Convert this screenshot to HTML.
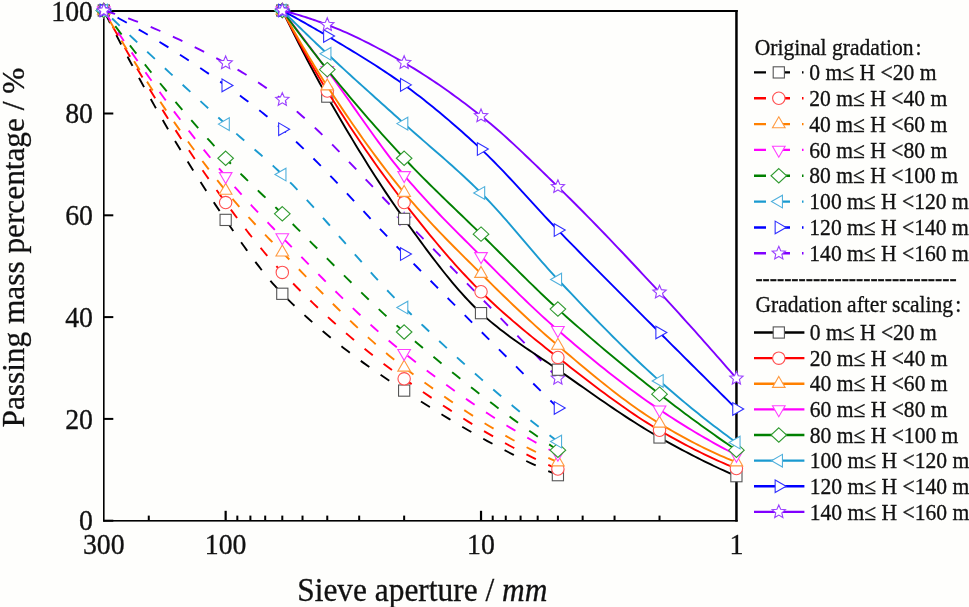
<!DOCTYPE html><html><head><meta charset="utf-8"><style>html,body{margin:0;padding:0;background:#fefefc;overflow:hidden;}svg{display:block}text{font-family:"Liberation Serif",serif;fill:#111;stroke:#111;stroke-width:0.3px}.t{filter:grayscale(1)}</style></head><body>
<svg width="969" height="607" viewBox="0 0 969 607">
<rect width="969" height="607" fill="#fefefc"/>
<rect x="103.00" y="10.00" width="634.70" height="2.00" fill="#000"/>
<rect x="735.20" y="10.00" width="2.50" height="511.60" fill="#000"/>
<rect x="103.00" y="10.00" width="1.60" height="511.60" fill="#000"/>
<rect x="103.00" y="520.00" width="634.70" height="1.60" fill="#000"/>
<rect x="104.00" y="519.70" width="9.30" height="2.00" fill="#000"/>
<text class="t" transform="translate(93.00,530.30) scale(1,1.050)" font-size="27.80" text-anchor="end">0</text>
<rect x="104.00" y="417.90" width="9.30" height="2.00" fill="#000"/>
<text class="t" transform="translate(93.00,428.50) scale(1,1.050)" font-size="27.80" text-anchor="end">20</text>
<rect x="104.00" y="316.10" width="9.30" height="2.00" fill="#000"/>
<text class="t" transform="translate(93.00,326.70) scale(1,1.050)" font-size="27.80" text-anchor="end">40</text>
<rect x="104.00" y="214.30" width="9.30" height="2.00" fill="#000"/>
<text class="t" transform="translate(93.00,224.90) scale(1,1.050)" font-size="27.80" text-anchor="end">60</text>
<rect x="104.00" y="112.50" width="9.30" height="2.00" fill="#000"/>
<text class="t" transform="translate(93.00,123.10) scale(1,1.050)" font-size="27.80" text-anchor="end">80</text>
<rect x="104.00" y="10.70" width="9.30" height="2.00" fill="#000"/>
<text class="t" transform="translate(93.00,21.30) scale(1,1.050)" font-size="27.80" text-anchor="end">100</text>
<rect x="224.55" y="510.80" width="2.20" height="9.70" fill="#000"/>
<rect x="479.92" y="510.80" width="2.20" height="9.70" fill="#000"/>
<rect x="147.77" y="515.60" width="2.00" height="4.90" fill="#000"/>
<rect x="403.15" y="515.60" width="2.00" height="4.90" fill="#000"/>
<rect x="358.18" y="515.60" width="2.00" height="4.90" fill="#000"/>
<rect x="326.27" y="515.60" width="2.00" height="4.90" fill="#000"/>
<rect x="301.52" y="515.60" width="2.00" height="4.90" fill="#000"/>
<rect x="281.30" y="515.60" width="2.00" height="4.90" fill="#000"/>
<rect x="264.20" y="515.60" width="2.00" height="4.90" fill="#000"/>
<rect x="249.39" y="515.60" width="2.00" height="4.90" fill="#000"/>
<rect x="236.33" y="515.60" width="2.00" height="4.90" fill="#000"/>
<rect x="658.52" y="515.60" width="2.00" height="4.90" fill="#000"/>
<rect x="613.55" y="515.60" width="2.00" height="4.90" fill="#000"/>
<rect x="581.65" y="515.60" width="2.00" height="4.90" fill="#000"/>
<rect x="556.90" y="515.60" width="2.00" height="4.90" fill="#000"/>
<rect x="536.68" y="515.60" width="2.00" height="4.90" fill="#000"/>
<rect x="519.58" y="515.60" width="2.00" height="4.90" fill="#000"/>
<rect x="504.77" y="515.60" width="2.00" height="4.90" fill="#000"/>
<rect x="491.71" y="515.60" width="2.00" height="4.90" fill="#000"/>
<text class="t" transform="translate(103.80,553.80) scale(1,1.050)" font-size="27.80" text-anchor="middle">300</text>
<text class="t" transform="translate(225.65,553.80) scale(1,1.050)" font-size="27.80" text-anchor="middle">100</text>
<text class="t" transform="translate(481.02,553.80) scale(1,1.050)" font-size="27.80" text-anchor="middle">10</text>
<text class="t" transform="translate(736.40,553.80) scale(1,1.050)" font-size="27.80" text-anchor="middle">1</text>
<path d="M557.90,475.16 L551.49,472.47 L545.09,469.69 L538.68,466.82 L532.27,463.87 L525.87,460.83 L519.46,457.72 L513.05,454.53 L506.65,451.27 L500.24,447.93 L493.84,444.52 L487.43,441.05 L481.02,437.51 L474.62,433.90 L468.21,430.23 L461.80,426.50 L455.40,422.71 L448.99,418.87 L442.58,414.98 L436.18,411.03 L429.77,407.03 L423.37,402.98 L416.96,398.89 L410.55,394.76 L404.15,390.59 L399.07,387.25 L393.99,383.89 L388.92,380.49 L383.84,377.05 L378.76,373.58 L373.69,370.06 L368.61,366.48 L363.53,362.86 L358.45,359.17 L353.38,355.42 L348.30,351.60 L343.22,347.71 L338.15,343.74 L333.07,339.69 L327.99,335.56 L322.92,331.34 L317.84,327.02 L312.76,322.60 L307.69,318.08 L302.61,313.45 L297.53,308.72 L292.45,303.86 L287.38,298.88 L282.30,293.78 L279.94,291.34 L277.58,288.82 L275.22,286.22 L272.86,283.55 L270.50,280.81 L268.14,278.01 L265.78,275.14 L263.42,272.21 L261.06,269.23 L258.69,266.19 L256.33,263.10 L253.97,259.97 L251.61,256.79 L249.25,253.57 L246.89,250.32 L244.53,247.03 L242.17,243.71 L239.81,240.37 L237.45,237.00 L235.09,233.61 L232.73,230.20 L230.37,226.78 L228.01,223.34 L225.65,219.90 L220.57,212.45 L215.49,204.89 L210.42,197.23 L205.34,189.47 L200.26,181.60 L195.18,173.63 L190.11,165.54 L185.03,157.35 L179.95,149.05 L174.88,140.64 L169.80,132.11 L164.72,123.47 L159.65,114.72 L154.57,105.85 L149.49,96.86 L144.42,87.76 L139.34,78.53 L134.26,69.19 L129.18,59.72 L124.11,50.13 L119.03,40.41 L113.95,30.57 L108.88,20.60 L103.80,10.50" fill="none" stroke="#000000" stroke-width="1.9" stroke-dasharray="10.5 13.7"/>
<rect x="98.20" y="4.90" width="11.20" height="11.20" fill="#fff" stroke="#555555" stroke-width="1.10"/>
<rect x="220.05" y="214.30" width="11.20" height="11.20" fill="#fff" stroke="#555555" stroke-width="1.10"/>
<rect x="276.70" y="288.18" width="11.20" height="11.20" fill="#fff" stroke="#555555" stroke-width="1.10"/>
<rect x="398.55" y="384.99" width="11.20" height="11.20" fill="#fff" stroke="#555555" stroke-width="1.10"/>
<rect x="552.30" y="469.56" width="11.20" height="11.20" fill="#fff" stroke="#555555" stroke-width="1.10"/>
<path d="M557.90,469.05 L551.49,466.27 L545.09,463.38 L538.68,460.39 L532.27,457.30 L525.87,454.12 L519.46,450.84 L513.05,447.47 L506.65,444.02 L500.24,440.48 L493.84,436.85 L487.43,433.15 L481.02,429.36 L474.62,425.50 L468.21,421.57 L461.80,417.57 L455.40,413.51 L448.99,409.37 L442.58,405.18 L436.18,400.93 L429.77,396.62 L423.37,392.26 L416.96,387.84 L410.55,383.38 L404.15,378.87 L399.07,375.24 L393.99,371.55 L388.92,367.78 L383.84,363.95 L378.76,360.05 L373.69,356.07 L368.61,352.03 L363.53,347.92 L358.45,343.73 L353.38,339.48 L348.30,335.15 L343.22,330.76 L338.15,326.29 L333.07,321.75 L327.99,317.14 L322.92,312.45 L317.84,307.70 L312.76,302.87 L307.69,297.97 L302.61,293.00 L297.53,287.96 L292.45,282.84 L287.38,277.65 L282.30,272.38 L279.94,269.89 L277.58,267.36 L275.22,264.78 L272.86,262.15 L270.50,259.49 L268.14,256.78 L265.78,254.03 L263.42,251.24 L261.06,248.42 L258.69,245.56 L256.33,242.66 L253.97,239.74 L251.61,236.78 L249.25,233.79 L246.89,230.78 L244.53,227.73 L242.17,224.67 L239.81,221.57 L237.45,218.46 L235.09,215.32 L232.73,212.16 L230.37,208.98 L228.01,205.79 L225.65,202.58 L220.57,195.62 L215.49,188.58 L210.42,181.45 L205.34,174.24 L200.26,166.95 L195.18,159.56 L190.11,152.09 L185.03,144.53 L179.95,136.88 L174.88,129.14 L169.80,121.30 L164.72,113.38 L159.65,105.35 L154.57,97.23 L149.49,89.01 L144.42,80.70 L139.34,72.28 L134.26,63.77 L129.18,55.15 L124.11,46.43 L119.03,37.61 L113.95,28.68 L108.88,19.64 L103.80,10.50" fill="none" stroke="#ff0000" stroke-width="1.9" stroke-dasharray="10.5 13.7"/>
<circle cx="103.80" cy="10.50" r="6.20" fill="#fff" stroke="#ff5050" stroke-width="1.10"/>
<circle cx="225.65" cy="202.58" r="6.20" fill="#fff" stroke="#ff5050" stroke-width="1.10"/>
<circle cx="282.30" cy="272.38" r="6.20" fill="#fff" stroke="#ff5050" stroke-width="1.10"/>
<circle cx="404.15" cy="378.87" r="6.20" fill="#fff" stroke="#ff5050" stroke-width="1.10"/>
<circle cx="557.90" cy="469.05" r="6.20" fill="#fff" stroke="#ff5050" stroke-width="1.10"/>
<path d="M557.90,462.22 L551.49,459.39 L545.09,456.43 L538.68,453.36 L532.27,450.17 L525.87,446.88 L519.46,443.47 L513.05,439.97 L506.65,436.36 L500.24,432.65 L493.84,428.85 L487.43,424.96 L481.02,420.97 L474.62,416.91 L468.21,412.76 L461.80,408.53 L455.40,404.23 L448.99,399.85 L442.58,395.41 L436.18,390.89 L429.77,386.32 L423.37,381.69 L416.96,377.00 L410.55,372.25 L404.15,367.46 L399.07,363.57 L393.99,359.56 L388.92,355.44 L383.84,351.20 L378.76,346.85 L373.69,342.40 L368.61,337.86 L363.53,333.23 L358.45,328.52 L353.38,323.74 L348.30,318.88 L343.22,313.97 L338.15,308.99 L333.07,303.97 L327.99,298.90 L322.92,293.79 L317.84,288.65 L312.76,283.49 L307.69,278.30 L302.61,273.11 L297.53,267.90 L292.45,262.70 L287.38,257.50 L282.30,252.31 L279.94,249.90 L277.58,247.49 L275.22,245.08 L272.86,242.67 L270.50,240.24 L268.14,237.82 L265.78,235.38 L263.42,232.93 L261.06,230.46 L258.69,227.99 L256.33,225.49 L253.97,222.98 L251.61,220.44 L249.25,217.88 L246.89,215.30 L244.53,212.69 L242.17,210.06 L239.81,207.39 L237.45,204.69 L235.09,201.96 L232.73,199.19 L230.37,196.39 L228.01,193.54 L225.65,190.66 L220.57,184.36 L215.49,177.97 L210.42,171.47 L205.34,164.88 L200.26,158.18 L195.18,151.39 L190.11,144.49 L185.03,137.48 L179.95,130.37 L174.88,123.16 L169.80,115.84 L164.72,108.41 L159.65,100.87 L154.57,93.23 L149.49,85.47 L144.42,77.60 L139.34,69.62 L134.26,61.52 L129.18,53.31 L124.11,44.98 L119.03,36.54 L113.95,27.98 L108.88,19.30 L103.80,10.50" fill="none" stroke="#ff8000" stroke-width="1.9" stroke-dasharray="10.5 13.7"/>
<polygon points="103.80,3.20 110.12,14.15 97.48,14.15" fill="#fff" stroke="#ff9a40" stroke-width="1.10"/>
<polygon points="225.65,183.36 231.97,194.31 219.32,194.31" fill="#fff" stroke="#ff9a40" stroke-width="1.10"/>
<polygon points="282.30,245.01 288.62,255.96 275.98,255.96" fill="#fff" stroke="#ff9a40" stroke-width="1.10"/>
<polygon points="404.15,360.16 410.47,371.11 397.82,371.11" fill="#fff" stroke="#ff9a40" stroke-width="1.10"/>
<polygon points="557.90,454.92 564.22,465.87 551.58,465.87" fill="#fff" stroke="#ff9a40" stroke-width="1.10"/>
<path d="M557.90,453.97 L551.49,450.76 L545.09,447.44 L538.68,444.03 L532.27,440.51 L525.87,436.90 L519.46,433.19 L513.05,429.38 L506.65,425.49 L500.24,421.51 L493.84,417.45 L487.43,413.30 L481.02,409.08 L474.62,404.78 L468.21,400.40 L461.80,395.95 L455.40,391.43 L448.99,386.85 L442.58,382.20 L436.18,377.48 L429.77,372.71 L423.37,367.89 L416.96,363.00 L410.55,358.07 L404.15,353.09 L399.07,349.07 L393.99,344.93 L388.92,340.70 L383.84,336.37 L378.76,331.95 L373.69,327.44 L368.61,322.85 L363.53,318.18 L358.45,313.45 L353.38,308.64 L348.30,303.78 L343.22,298.86 L338.15,293.89 L333.07,288.88 L327.99,283.83 L322.92,278.74 L317.84,273.62 L312.76,268.48 L307.69,263.32 L302.61,258.15 L297.53,252.97 L292.45,247.79 L287.38,242.60 L282.30,237.43 L279.94,235.03 L277.58,232.62 L275.22,230.20 L272.86,227.78 L270.50,225.36 L268.14,222.92 L265.78,220.47 L263.42,218.02 L261.06,215.55 L258.69,213.07 L256.33,210.57 L253.97,208.06 L251.61,205.53 L249.25,202.98 L246.89,200.42 L244.53,197.83 L242.17,195.23 L239.81,192.60 L237.45,189.95 L235.09,187.27 L232.73,184.57 L230.37,181.84 L228.01,179.08 L225.65,176.29 L220.57,170.23 L215.49,164.11 L210.42,157.91 L205.34,151.65 L200.26,145.32 L195.18,138.92 L190.11,132.44 L185.03,125.90 L179.95,119.28 L174.88,112.58 L169.80,105.81 L164.72,98.97 L159.65,92.04 L154.57,85.04 L149.49,77.96 L144.42,70.80 L139.34,63.56 L134.26,56.23 L129.18,48.82 L124.11,41.33 L119.03,33.75 L113.95,26.09 L108.88,18.34 L103.80,10.50" fill="none" stroke="#ff00ff" stroke-width="1.9" stroke-dasharray="10.5 13.7"/>
<polygon points="103.80,17.80 97.48,6.85 110.12,6.85" fill="#fff" stroke="#ff40ff" stroke-width="1.10"/>
<polygon points="225.65,183.59 219.32,172.64 231.97,172.64" fill="#fff" stroke="#ff40ff" stroke-width="1.10"/>
<polygon points="282.30,244.73 275.98,233.78 288.62,233.78" fill="#fff" stroke="#ff40ff" stroke-width="1.10"/>
<polygon points="404.15,360.39 397.82,349.44 410.47,349.44" fill="#fff" stroke="#ff40ff" stroke-width="1.10"/>
<polygon points="557.90,461.27 551.58,450.32 564.22,450.32" fill="#fff" stroke="#ff40ff" stroke-width="1.10"/>
<path d="M557.90,450.20 L551.49,445.96 L545.09,441.65 L538.68,437.27 L532.27,432.83 L525.87,428.32 L519.46,423.75 L513.05,419.11 L506.65,414.41 L500.24,409.66 L493.84,404.84 L487.43,399.97 L481.02,395.04 L474.62,390.06 L468.21,385.02 L461.80,379.93 L455.40,374.79 L448.99,369.60 L442.58,364.36 L436.18,359.08 L429.77,353.75 L423.37,348.37 L416.96,342.95 L410.55,337.49 L404.15,331.99 L399.07,327.58 L393.99,323.07 L388.92,318.49 L383.84,313.84 L378.76,309.12 L373.69,304.33 L368.61,299.49 L363.53,294.60 L358.45,289.66 L353.38,284.69 L348.30,279.67 L343.22,274.63 L338.15,269.56 L333.07,264.48 L327.99,259.38 L322.92,254.27 L317.84,249.16 L312.76,244.06 L307.69,238.96 L302.61,233.88 L297.53,228.81 L292.45,223.77 L287.38,218.76 L282.30,213.79 L279.94,211.49 L277.58,209.21 L275.22,206.94 L272.86,204.68 L270.50,202.43 L268.14,200.18 L265.78,197.94 L263.42,195.69 L261.06,193.45 L258.69,191.20 L256.33,188.95 L253.97,186.69 L251.61,184.42 L249.25,182.14 L246.89,179.85 L244.53,177.54 L242.17,175.21 L239.81,172.87 L237.45,170.50 L235.09,168.11 L232.73,165.69 L230.37,163.24 L228.01,160.76 L225.65,158.25 L220.57,152.79 L215.49,147.28 L210.42,141.71 L205.34,136.08 L200.26,130.40 L195.18,124.66 L190.11,118.86 L185.03,113.00 L179.95,107.09 L174.88,101.11 L169.80,95.07 L164.72,88.96 L159.65,82.79 L154.57,76.56 L149.49,70.26 L144.42,63.90 L139.34,57.47 L134.26,50.97 L129.18,44.40 L124.11,37.76 L119.03,31.06 L113.95,24.28 L108.88,17.42 L103.80,10.50" fill="none" stroke="#008000" stroke-width="1.9" stroke-dasharray="10.5 13.7"/>
<polygon points="103.80,3.30 111.60,10.50 103.80,17.70 96.00,10.50" fill="#fff" stroke="#309a30" stroke-width="1.10"/>
<polygon points="225.65,151.06 233.45,158.25 225.65,165.45 217.85,158.25" fill="#fff" stroke="#309a30" stroke-width="1.10"/>
<polygon points="282.30,206.59 290.10,213.79 282.30,220.99 274.50,213.79" fill="#fff" stroke="#309a30" stroke-width="1.10"/>
<polygon points="404.15,324.79 411.95,331.99 404.15,339.19 396.35,331.99" fill="#fff" stroke="#309a30" stroke-width="1.10"/>
<polygon points="557.90,443.00 565.70,450.20 557.90,457.40 550.10,450.20" fill="#fff" stroke="#309a30" stroke-width="1.10"/>
<path d="M557.90,441.54 L551.49,436.70 L545.09,431.79 L538.68,426.81 L532.27,421.75 L525.87,416.62 L519.46,411.42 L513.05,406.16 L506.65,400.82 L500.24,395.43 L493.84,389.96 L487.43,384.44 L481.02,378.85 L474.62,373.21 L468.21,367.50 L461.80,361.74 L455.40,355.92 L448.99,350.05 L442.58,344.12 L436.18,338.15 L429.77,332.12 L423.37,326.04 L416.96,319.92 L410.55,313.75 L404.15,307.54 L399.07,302.52 L393.99,297.37 L388.92,292.09 L383.84,286.69 L378.76,281.20 L373.69,275.62 L368.61,269.96 L363.53,264.24 L358.45,258.46 L353.38,252.66 L348.30,246.82 L343.22,240.98 L338.15,235.13 L333.07,229.30 L327.99,223.50 L322.92,217.74 L317.84,212.02 L312.76,206.38 L307.69,200.81 L302.61,195.32 L297.53,189.95 L292.45,184.69 L287.38,179.55 L282.30,174.56 L279.94,172.29 L277.58,170.05 L275.22,167.84 L272.86,165.66 L270.50,163.51 L268.14,161.37 L265.78,159.26 L263.42,157.16 L261.06,155.08 L258.69,153.02 L256.33,150.96 L253.97,148.91 L251.61,146.87 L249.25,144.83 L246.89,142.79 L244.53,140.75 L242.17,138.71 L239.81,136.66 L237.45,134.61 L235.09,132.54 L232.73,130.46 L230.37,128.37 L228.01,126.25 L225.65,124.12 L220.57,119.50 L215.49,114.88 L210.42,110.25 L205.34,105.60 L200.26,100.95 L195.18,96.29 L190.11,91.62 L185.03,86.94 L179.95,82.25 L174.88,77.55 L169.80,72.84 L164.72,68.12 L159.65,63.38 L154.57,58.64 L149.49,53.88 L144.42,49.11 L139.34,44.33 L134.26,39.54 L129.18,34.73 L124.11,29.91 L119.03,25.08 L113.95,20.23 L108.88,15.37 L103.80,10.50" fill="none" stroke="#1a9ad0" stroke-width="1.9" stroke-dasharray="10.5 13.7"/>
<polygon points="96.50,10.50 107.45,4.18 107.45,16.82" fill="#fff" stroke="#50b0dc" stroke-width="1.10"/>
<polygon points="218.35,124.12 229.30,117.80 229.30,130.44" fill="#fff" stroke="#50b0dc" stroke-width="1.10"/>
<polygon points="275.00,174.56 285.95,168.24 285.95,180.88" fill="#fff" stroke="#50b0dc" stroke-width="1.10"/>
<polygon points="396.85,307.54 407.80,301.22 407.80,313.86" fill="#fff" stroke="#50b0dc" stroke-width="1.10"/>
<polygon points="550.60,441.54 561.55,435.22 561.55,447.86" fill="#fff" stroke="#50b0dc" stroke-width="1.10"/>
<path d="M557.90,407.91 L551.49,401.58 L545.09,395.24 L538.68,388.90 L532.27,382.54 L525.87,376.18 L519.46,369.82 L513.05,363.44 L506.65,357.06 L500.24,350.67 L493.84,344.28 L487.43,337.87 L481.02,331.46 L474.62,325.05 L468.21,318.62 L461.80,312.19 L455.40,305.76 L448.99,299.32 L442.58,292.87 L436.18,286.41 L429.77,279.95 L423.37,273.48 L416.96,267.01 L410.55,260.53 L404.15,254.04 L399.07,248.86 L393.99,243.61 L388.92,238.31 L383.84,232.95 L378.76,227.56 L373.69,222.13 L368.61,216.68 L363.53,211.22 L358.45,205.75 L353.38,200.28 L348.30,194.83 L343.22,189.40 L338.15,184.00 L333.07,178.64 L327.99,173.33 L322.92,168.08 L317.84,162.89 L312.76,157.78 L307.69,152.76 L302.61,147.83 L297.53,143.00 L292.45,138.28 L287.38,133.68 L282.30,129.21 L279.94,127.18 L277.58,125.16 L275.22,123.17 L272.86,121.20 L270.50,119.24 L268.14,117.31 L265.78,115.39 L263.42,113.49 L261.06,111.62 L258.69,109.76 L256.33,107.91 L253.97,106.09 L251.61,104.28 L249.25,102.49 L246.89,100.71 L244.53,98.95 L242.17,97.21 L239.81,95.48 L237.45,93.76 L235.09,92.06 L232.73,90.37 L230.37,88.70 L228.01,87.04 L225.65,85.40 L220.57,81.88 L215.49,78.39 L210.42,74.92 L205.34,71.48 L200.26,68.07 L195.18,64.68 L190.11,61.33 L185.03,58.01 L179.95,54.72 L174.88,51.47 L169.80,48.26 L164.72,45.08 L159.65,41.94 L154.57,38.85 L149.49,35.80 L144.42,32.79 L139.34,29.83 L134.26,26.91 L129.18,24.05 L124.11,21.23 L119.03,18.47 L113.95,15.75 L108.88,13.10 L103.80,10.50" fill="none" stroke="#0000ff" stroke-width="1.9" stroke-dasharray="10.5 13.7"/>
<polygon points="111.10,10.50 100.15,16.82 100.15,4.18" fill="#fff" stroke="#3030ff" stroke-width="1.10"/>
<polygon points="232.95,85.40 222.00,91.72 222.00,79.07" fill="#fff" stroke="#3030ff" stroke-width="1.10"/>
<polygon points="289.60,129.21 278.65,135.54 278.65,122.89" fill="#fff" stroke="#3030ff" stroke-width="1.10"/>
<polygon points="411.45,254.04 400.50,260.36 400.50,247.72" fill="#fff" stroke="#3030ff" stroke-width="1.10"/>
<polygon points="565.20,407.91 554.25,414.23 554.25,401.59" fill="#fff" stroke="#3030ff" stroke-width="1.10"/>
<path d="M557.90,378.36 L551.49,371.56 L545.09,364.78 L538.68,358.01 L532.27,351.26 L525.87,344.52 L519.46,337.80 L513.05,331.10 L506.65,324.41 L500.24,317.74 L493.84,311.08 L487.43,304.43 L481.02,297.80 L474.62,291.19 L468.21,284.59 L461.80,278.01 L455.40,271.44 L448.99,264.88 L442.58,258.34 L436.18,251.81 L429.77,245.30 L423.37,238.80 L416.96,232.32 L410.55,225.85 L404.15,219.40 L399.07,214.25 L393.99,209.04 L388.92,203.78 L383.84,198.48 L378.76,193.14 L373.69,187.79 L368.61,182.42 L363.53,177.06 L358.45,171.70 L353.38,166.36 L348.30,161.06 L343.22,155.80 L338.15,150.58 L333.07,145.44 L327.99,140.36 L322.92,135.37 L317.84,130.47 L312.76,125.67 L307.69,120.99 L302.61,116.43 L297.53,112.01 L292.45,107.74 L287.38,103.62 L282.30,99.66 L279.94,97.88 L277.58,96.11 L275.22,94.37 L272.86,92.65 L270.50,90.95 L268.14,89.27 L265.78,87.62 L263.42,85.99 L261.06,84.38 L258.69,82.79 L256.33,81.22 L253.97,79.68 L251.61,78.16 L249.25,76.67 L246.89,75.19 L244.53,73.74 L242.17,72.32 L239.81,70.91 L237.45,69.53 L235.09,68.17 L232.73,66.84 L230.37,65.53 L228.01,64.24 L225.65,62.98 L220.57,60.30 L215.49,57.64 L210.42,55.01 L205.34,52.41 L200.26,49.84 L195.18,47.31 L190.11,44.81 L185.03,42.35 L179.95,39.94 L174.88,37.57 L169.80,35.24 L164.72,32.97 L159.65,30.75 L154.57,28.58 L149.49,26.47 L144.42,24.42 L139.34,22.44 L134.26,20.52 L129.18,18.66 L124.11,16.88 L119.03,15.17 L113.95,13.53 L108.88,11.98 L103.80,10.50" fill="none" stroke="#8000ff" stroke-width="1.9" stroke-dasharray="10.5 13.7"/>
<polygon points="103.80,3.50 105.68,7.91 110.46,8.34 106.84,11.49 107.91,16.16 103.80,13.70 99.69,16.16 100.76,11.49 97.14,8.34 101.92,7.91" fill="#fff" stroke="#9a40ff" stroke-width="1.10"/>
<polygon points="225.65,55.98 227.53,60.39 232.30,60.82 228.69,63.97 229.76,68.64 225.65,66.18 221.53,68.64 222.60,63.97 218.99,60.82 223.76,60.39" fill="#fff" stroke="#9a40ff" stroke-width="1.10"/>
<polygon points="282.30,92.66 284.18,97.07 288.96,97.50 285.34,100.65 286.42,105.33 282.30,102.86 278.19,105.33 279.26,100.65 275.64,97.50 280.42,97.07" fill="#fff" stroke="#9a40ff" stroke-width="1.10"/>
<polygon points="404.15,212.40 406.03,216.81 410.80,217.23 407.19,220.38 408.26,225.06 404.15,222.60 400.03,225.06 401.10,220.38 397.49,217.23 402.27,216.81" fill="#fff" stroke="#9a40ff" stroke-width="1.10"/>
<polygon points="557.90,371.36 559.78,375.77 564.56,376.20 560.94,379.35 562.01,384.02 557.90,381.56 553.78,384.02 554.86,379.35 551.24,376.20 556.02,375.77" fill="#fff" stroke="#9a40ff" stroke-width="1.10"/>
<path d="M282.30,10.50 L284.17,14.31 L286.05,18.10 L287.92,21.88 L289.80,25.64 L291.67,29.39 L293.54,33.13 L295.42,36.84 L297.29,40.54 L299.16,44.22 L301.04,47.88 L302.91,51.52 L304.79,55.14 L306.66,58.74 L308.53,62.31 L310.41,65.86 L312.28,69.39 L314.15,72.89 L316.03,76.36 L317.90,79.81 L319.78,83.23 L321.65,86.62 L323.52,89.98 L325.40,93.31 L327.27,96.61 L330.47,102.20 L333.68,107.76 L336.88,113.29 L340.08,118.79 L343.29,124.24 L346.49,129.66 L349.69,135.04 L352.90,140.37 L356.10,145.67 L359.30,150.92 L362.51,156.12 L365.71,161.27 L368.91,166.38 L372.12,171.43 L375.32,176.44 L378.52,181.39 L381.72,186.28 L384.93,191.12 L388.13,195.90 L391.33,200.62 L394.54,205.28 L397.74,209.88 L400.94,214.42 L404.15,218.89 L407.35,223.32 L410.55,227.74 L413.76,232.16 L416.96,236.55 L420.16,240.92 L423.37,245.27 L426.57,249.58 L429.77,253.86 L432.98,258.09 L436.18,262.28 L439.38,266.41 L442.58,270.48 L445.79,274.50 L448.99,278.45 L452.19,282.32 L455.40,286.12 L458.60,289.83 L461.80,293.46 L465.01,297.00 L468.21,300.44 L471.41,303.78 L474.62,307.02 L477.82,310.14 L481.02,313.14 L484.23,316.04 L487.43,318.86 L490.63,321.60 L493.84,324.27 L497.04,326.86 L500.24,329.39 L503.45,331.87 L506.65,334.29 L509.85,336.66 L513.05,338.98 L516.26,341.27 L519.46,343.52 L522.66,345.74 L525.87,347.94 L529.07,350.12 L532.27,352.29 L535.48,354.44 L538.68,356.59 L541.88,358.75 L545.09,360.91 L548.29,363.08 L551.49,365.26 L554.70,367.47 L557.90,369.70 L562.13,372.67 L566.37,375.65 L570.60,378.64 L574.84,381.62 L579.07,384.61 L583.31,387.59 L587.54,390.56 L591.77,393.53 L596.01,396.48 L600.24,399.42 L604.48,402.34 L608.71,405.24 L612.95,408.12 L617.18,410.97 L621.41,413.79 L625.65,416.59 L629.88,419.34 L634.12,422.06 L638.35,424.75 L642.59,427.38 L646.82,429.98 L651.06,432.52 L655.29,435.02 L659.52,437.46 L662.73,439.28 L665.93,441.08 L669.13,442.86 L672.34,444.63 L675.54,446.38 L678.74,448.11 L681.95,449.83 L685.15,451.53 L688.35,453.21 L691.56,454.87 L694.76,456.51 L697.96,458.14 L701.17,459.74 L704.37,461.33 L707.57,462.90 L710.77,464.45 L713.98,465.99 L717.18,467.50 L720.38,469.00 L723.59,470.47 L726.79,471.93 L729.99,473.37 L733.20,474.78 L736.40,476.18" fill="none" stroke="#000000" stroke-width="1.9"/>
<rect x="276.70" y="4.90" width="11.20" height="11.20" fill="#fff" stroke="#555555" stroke-width="1.10"/>
<rect x="321.67" y="91.01" width="11.20" height="11.20" fill="#fff" stroke="#555555" stroke-width="1.10"/>
<rect x="398.55" y="213.29" width="11.20" height="11.20" fill="#fff" stroke="#555555" stroke-width="1.10"/>
<rect x="475.42" y="307.54" width="11.20" height="11.20" fill="#fff" stroke="#555555" stroke-width="1.10"/>
<rect x="552.30" y="364.10" width="11.20" height="11.20" fill="#fff" stroke="#555555" stroke-width="1.10"/>
<rect x="653.92" y="431.86" width="11.20" height="11.20" fill="#fff" stroke="#555555" stroke-width="1.10"/>
<rect x="730.80" y="470.58" width="11.20" height="11.20" fill="#fff" stroke="#555555" stroke-width="1.10"/>
<path d="M282.30,10.50 L284.17,14.08 L286.05,17.65 L287.92,21.21 L289.80,24.75 L291.67,28.27 L293.54,31.78 L295.42,35.27 L297.29,38.74 L299.16,42.19 L301.04,45.62 L302.91,49.03 L304.79,52.42 L306.66,55.79 L308.53,59.13 L310.41,62.44 L312.28,65.73 L314.15,68.99 L316.03,72.23 L317.90,75.43 L319.78,78.61 L321.65,81.76 L323.52,84.87 L325.40,87.95 L327.27,91.00 L330.47,96.16 L333.68,101.27 L336.88,106.34 L340.08,111.37 L343.29,116.35 L346.49,121.28 L349.69,126.17 L352.90,131.01 L356.10,135.81 L359.30,140.57 L362.51,145.28 L365.71,149.95 L368.91,154.57 L372.12,159.15 L375.32,163.69 L378.52,168.18 L381.72,172.63 L384.93,177.04 L388.13,181.40 L391.33,185.72 L394.54,190.00 L397.74,194.24 L400.94,198.43 L404.15,202.58 L407.35,206.70 L410.55,210.79 L413.76,214.86 L416.96,218.91 L420.16,222.92 L423.37,226.90 L426.57,230.86 L429.77,234.78 L432.98,238.66 L436.18,242.51 L439.38,246.32 L442.58,250.09 L445.79,253.83 L448.99,257.51 L452.19,261.16 L455.40,264.76 L458.60,268.31 L461.80,271.82 L465.01,275.27 L468.21,278.68 L471.41,282.03 L474.62,285.32 L477.82,288.56 L481.02,291.74 L484.23,294.87 L487.43,297.95 L490.63,300.99 L493.84,303.98 L497.04,306.93 L500.24,309.83 L503.45,312.70 L506.65,315.54 L509.85,318.33 L513.05,321.10 L516.26,323.83 L519.46,326.54 L522.66,329.22 L525.87,331.87 L529.07,334.51 L532.27,337.12 L535.48,339.71 L538.68,342.28 L541.88,344.84 L545.09,347.39 L548.29,349.92 L551.49,352.44 L554.70,354.96 L557.90,357.47 L562.13,360.79 L566.37,364.10 L570.60,367.41 L574.84,370.71 L579.07,374.00 L583.31,377.27 L587.54,380.53 L591.77,383.77 L596.01,386.98 L600.24,390.17 L604.48,393.32 L608.71,396.45 L612.95,399.54 L617.18,402.59 L621.41,405.60 L625.65,408.57 L629.88,411.49 L634.12,414.35 L638.35,417.17 L642.59,419.93 L646.82,422.62 L651.06,425.26 L655.29,427.83 L659.52,430.33 L662.73,432.18 L665.93,434.02 L669.13,435.83 L672.34,437.62 L675.54,439.39 L678.74,441.14 L681.95,442.87 L685.15,444.57 L688.35,446.26 L691.56,447.92 L694.76,449.55 L697.96,451.16 L701.17,452.75 L704.37,454.31 L707.57,455.85 L710.77,457.37 L713.98,458.85 L717.18,460.32 L720.38,461.75 L723.59,463.17 L726.79,464.55 L729.99,465.91 L733.20,467.24 L736.40,468.54" fill="none" stroke="#ff0000" stroke-width="1.9"/>
<circle cx="282.30" cy="10.50" r="6.20" fill="#fff" stroke="#ff5050" stroke-width="1.10"/>
<circle cx="327.27" cy="91.00" r="6.20" fill="#fff" stroke="#ff5050" stroke-width="1.10"/>
<circle cx="404.15" cy="202.58" r="6.20" fill="#fff" stroke="#ff5050" stroke-width="1.10"/>
<circle cx="481.02" cy="291.74" r="6.20" fill="#fff" stroke="#ff5050" stroke-width="1.10"/>
<circle cx="557.90" cy="357.47" r="6.20" fill="#fff" stroke="#ff5050" stroke-width="1.10"/>
<circle cx="659.52" cy="430.33" r="6.20" fill="#fff" stroke="#ff5050" stroke-width="1.10"/>
<circle cx="736.40" cy="468.54" r="6.20" fill="#fff" stroke="#ff5050" stroke-width="1.10"/>
<path d="M282.30,10.50 L284.17,13.86 L286.05,17.20 L287.92,20.53 L289.80,23.85 L291.67,27.15 L293.54,30.44 L295.42,33.72 L297.29,36.97 L299.16,40.21 L301.04,43.44 L302.91,46.64 L304.79,49.82 L306.66,52.99 L308.53,56.13 L310.41,59.25 L312.28,62.35 L314.15,65.42 L316.03,68.47 L317.90,71.49 L319.78,74.49 L321.65,77.46 L323.52,80.41 L325.40,83.32 L327.27,86.21 L330.47,91.11 L333.68,95.97 L336.88,100.81 L340.08,105.61 L343.29,110.38 L346.49,115.11 L349.69,119.80 L352.90,124.46 L356.10,129.08 L359.30,133.66 L362.51,138.19 L365.71,142.68 L368.91,147.13 L372.12,151.53 L375.32,155.88 L378.52,160.19 L381.72,164.44 L384.93,168.64 L388.13,172.79 L391.33,176.89 L394.54,180.93 L397.74,184.91 L400.94,188.83 L404.15,192.70 L407.35,196.50 L410.55,200.25 L413.76,203.94 L416.96,207.59 L420.16,211.18 L423.37,214.73 L426.57,218.23 L429.77,221.69 L432.98,225.12 L436.18,228.50 L439.38,231.86 L442.58,235.19 L445.79,238.48 L448.99,241.76 L452.19,245.01 L455.40,248.24 L458.60,251.45 L461.80,254.65 L465.01,257.84 L468.21,261.02 L471.41,264.20 L474.62,267.37 L477.82,270.54 L481.02,273.71 L484.23,276.88 L487.43,280.04 L490.63,283.19 L493.84,286.34 L497.04,289.47 L500.24,292.59 L503.45,295.70 L506.65,298.79 L509.85,301.87 L513.05,304.94 L516.26,307.98 L519.46,311.01 L522.66,314.02 L525.87,317.01 L529.07,319.98 L532.27,322.92 L535.48,325.84 L538.68,328.74 L541.88,331.61 L545.09,334.46 L548.29,337.27 L551.49,340.06 L554.70,342.82 L557.90,345.55 L562.13,349.13 L566.37,352.71 L570.60,356.29 L574.84,359.86 L579.07,363.42 L583.31,366.95 L587.54,370.47 L591.77,373.97 L596.01,377.43 L600.24,380.87 L604.48,384.27 L608.71,387.62 L612.95,390.94 L617.18,394.21 L621.41,397.43 L625.65,400.59 L629.88,403.70 L634.12,406.74 L638.35,409.72 L642.59,412.63 L646.82,415.47 L651.06,418.23 L655.29,420.91 L659.52,423.50 L662.73,425.42 L665.93,427.31 L669.13,429.19 L672.34,431.03 L675.54,432.86 L678.74,434.66 L681.95,436.43 L685.15,438.18 L688.35,439.90 L691.56,441.59 L694.76,443.26 L697.96,444.90 L701.17,446.51 L704.37,448.09 L707.57,449.65 L710.77,451.17 L713.98,452.66 L717.18,454.12 L720.38,455.55 L723.59,456.95 L726.79,458.32 L729.99,459.65 L733.20,460.96 L736.40,462.22" fill="none" stroke="#ff8000" stroke-width="1.9"/>
<polygon points="282.30,3.20 288.62,14.15 275.98,14.15" fill="#fff" stroke="#ff9a40" stroke-width="1.10"/>
<polygon points="327.27,78.91 333.59,89.86 320.95,89.86" fill="#fff" stroke="#ff9a40" stroke-width="1.10"/>
<polygon points="404.15,185.40 410.47,196.35 397.82,196.35" fill="#fff" stroke="#ff9a40" stroke-width="1.10"/>
<polygon points="481.02,266.41 487.34,277.36 474.70,277.36" fill="#fff" stroke="#ff9a40" stroke-width="1.10"/>
<polygon points="557.90,338.25 564.22,349.20 551.58,349.20" fill="#fff" stroke="#ff9a40" stroke-width="1.10"/>
<polygon points="659.52,416.20 665.85,427.15 653.20,427.15" fill="#fff" stroke="#ff9a40" stroke-width="1.10"/>
<polygon points="736.40,454.92 742.72,465.87 730.08,465.87" fill="#fff" stroke="#ff9a40" stroke-width="1.10"/>
<path d="M282.30,10.50 L284.17,12.97 L286.05,15.44 L287.92,17.91 L289.80,20.39 L291.67,22.86 L293.54,25.34 L295.42,27.82 L297.29,30.30 L299.16,32.78 L301.04,35.27 L302.91,37.76 L304.79,40.25 L306.66,42.74 L308.53,45.23 L310.41,47.73 L312.28,50.23 L314.15,52.73 L316.03,55.23 L317.90,57.74 L319.78,60.25 L321.65,62.76 L323.52,65.28 L325.40,67.79 L327.27,70.32 L330.47,74.65 L333.68,79.04 L336.88,83.48 L340.08,87.95 L343.29,92.45 L346.49,96.98 L349.69,101.52 L352.90,106.08 L356.10,110.64 L359.30,115.21 L362.51,119.76 L365.71,124.30 L368.91,128.82 L372.12,133.31 L375.32,137.76 L378.52,142.18 L381.72,146.55 L384.93,150.86 L388.13,155.12 L391.33,159.31 L394.54,163.43 L397.74,167.46 L400.94,171.41 L404.15,175.27 L407.35,179.05 L410.55,182.78 L413.76,186.45 L416.96,190.07 L420.16,193.64 L423.37,197.17 L426.57,200.65 L429.77,204.10 L432.98,207.51 L436.18,210.88 L439.38,214.23 L442.58,217.55 L445.79,220.84 L448.99,224.11 L452.19,227.37 L455.40,230.60 L458.60,233.83 L461.80,237.04 L465.01,240.25 L468.21,243.45 L471.41,246.66 L474.62,249.86 L477.82,253.07 L481.02,256.28 L484.23,259.50 L487.43,262.72 L490.63,265.94 L493.84,269.16 L497.04,272.37 L500.24,275.57 L503.45,278.77 L506.65,281.95 L509.85,285.12 L513.05,288.28 L516.26,291.43 L519.46,294.56 L522.66,297.66 L525.87,300.75 L529.07,303.82 L532.27,306.86 L535.48,309.88 L538.68,312.87 L541.88,315.83 L545.09,318.77 L548.29,321.67 L551.49,324.53 L554.70,327.37 L557.90,330.16 L562.13,333.82 L566.37,337.46 L570.60,341.07 L574.84,344.67 L579.07,348.24 L583.31,351.78 L587.54,355.29 L591.77,358.78 L596.01,362.24 L600.24,365.67 L604.48,369.06 L608.71,372.42 L612.95,375.75 L617.18,379.03 L621.41,382.29 L625.65,385.50 L629.88,388.67 L634.12,391.80 L638.35,394.89 L642.59,397.93 L646.82,400.93 L651.06,403.88 L655.29,406.79 L659.52,409.64 L662.73,411.77 L665.93,413.88 L669.13,415.97 L672.34,418.04 L675.54,420.09 L678.74,422.12 L681.95,424.13 L685.15,426.12 L688.35,428.09 L691.56,430.03 L694.76,431.96 L697.96,433.86 L701.17,435.75 L704.37,437.61 L707.57,439.44 L710.77,441.26 L713.98,443.06 L717.18,444.83 L720.38,446.58 L723.59,448.31 L726.79,450.01 L729.99,451.69 L733.20,453.35 L736.40,454.99" fill="none" stroke="#ff00ff" stroke-width="1.9"/>
<polygon points="282.30,17.80 275.98,6.85 288.62,6.85" fill="#fff" stroke="#ff40ff" stroke-width="1.10"/>
<polygon points="327.27,77.62 320.95,66.67 333.59,66.67" fill="#fff" stroke="#ff40ff" stroke-width="1.10"/>
<polygon points="404.15,182.57 397.82,171.62 410.47,171.62" fill="#fff" stroke="#ff40ff" stroke-width="1.10"/>
<polygon points="481.02,263.58 474.70,252.63 487.34,252.63" fill="#fff" stroke="#ff40ff" stroke-width="1.10"/>
<polygon points="557.90,337.46 551.58,326.51 564.22,326.51" fill="#fff" stroke="#ff40ff" stroke-width="1.10"/>
<polygon points="659.52,416.94 653.20,405.99 665.85,405.99" fill="#fff" stroke="#ff40ff" stroke-width="1.10"/>
<polygon points="736.40,462.29 730.08,451.34 742.72,451.34" fill="#fff" stroke="#ff40ff" stroke-width="1.10"/>
<path d="M282.30,10.50 L284.17,13.07 L286.05,15.63 L287.92,18.19 L289.80,20.74 L291.67,23.28 L293.54,25.82 L295.42,28.34 L297.29,30.86 L299.16,33.37 L301.04,35.86 L302.91,38.35 L304.79,40.83 L306.66,43.29 L308.53,45.75 L310.41,48.19 L312.28,50.62 L314.15,53.04 L316.03,55.45 L317.90,57.84 L319.78,60.22 L321.65,62.59 L323.52,64.94 L325.40,67.28 L327.27,69.60 L330.47,73.55 L333.68,77.48 L336.88,81.38 L340.08,85.27 L343.29,89.13 L346.49,92.98 L349.69,96.80 L352.90,100.60 L356.10,104.38 L359.30,108.13 L362.51,111.87 L365.71,115.58 L368.91,119.27 L372.12,122.93 L375.32,126.57 L378.52,130.19 L381.72,133.78 L384.93,137.35 L388.13,140.90 L391.33,144.42 L394.54,147.92 L397.74,151.39 L400.94,154.83 L404.15,158.25 L407.35,161.64 L410.55,165.00 L413.76,168.31 L416.96,171.60 L420.16,174.86 L423.37,178.08 L426.57,181.29 L429.77,184.47 L432.98,187.63 L436.18,190.77 L439.38,193.90 L442.58,197.01 L445.79,200.11 L448.99,203.21 L452.19,206.29 L455.40,209.38 L458.60,212.46 L461.80,215.54 L465.01,218.62 L468.21,221.71 L471.41,224.81 L474.62,227.92 L477.82,231.04 L481.02,234.17 L484.23,237.32 L487.43,240.48 L490.63,243.66 L493.84,246.84 L497.04,250.03 L500.24,253.22 L503.45,256.42 L506.65,259.61 L509.85,262.81 L513.05,266.00 L516.26,269.18 L519.46,272.36 L522.66,275.53 L525.87,278.68 L529.07,281.82 L532.27,284.94 L535.48,288.05 L538.68,291.13 L541.88,294.19 L545.09,297.22 L548.29,300.23 L551.49,303.21 L554.70,306.15 L557.90,309.07 L562.13,312.88 L566.37,316.67 L570.60,320.43 L574.84,324.17 L579.07,327.89 L583.31,331.58 L587.54,335.24 L591.77,338.88 L596.01,342.50 L600.24,346.10 L604.48,349.67 L608.71,353.22 L612.95,356.75 L617.18,360.25 L621.41,363.74 L625.65,367.20 L629.88,370.64 L634.12,374.06 L638.35,377.46 L642.59,380.84 L646.82,384.20 L651.06,387.54 L655.29,390.85 L659.52,394.15 L662.73,396.64 L665.93,399.10 L669.13,401.56 L672.34,404.00 L675.54,406.43 L678.74,408.85 L681.95,411.25 L685.15,413.65 L688.35,416.02 L691.56,418.39 L694.76,420.74 L697.96,423.08 L701.17,425.41 L704.37,427.73 L707.57,430.03 L710.77,432.32 L713.98,434.60 L717.18,436.86 L720.38,439.12 L723.59,441.36 L726.79,443.59 L729.99,445.80 L733.20,448.01 L736.40,450.20" fill="none" stroke="#008000" stroke-width="1.9"/>
<polygon points="282.30,3.30 290.10,10.50 282.30,17.70 274.50,10.50" fill="#fff" stroke="#309a30" stroke-width="1.10"/>
<polygon points="327.27,62.40 335.07,69.60 327.27,76.80 319.47,69.60" fill="#fff" stroke="#309a30" stroke-width="1.10"/>
<polygon points="404.15,151.06 411.95,158.25 404.15,165.45 396.35,158.25" fill="#fff" stroke="#309a30" stroke-width="1.10"/>
<polygon points="481.02,226.97 488.82,234.17 481.02,241.37 473.22,234.17" fill="#fff" stroke="#309a30" stroke-width="1.10"/>
<polygon points="557.90,301.87 565.70,309.07 557.90,316.27 550.10,309.07" fill="#fff" stroke="#309a30" stroke-width="1.10"/>
<polygon points="659.52,386.95 667.32,394.15 659.52,401.35 651.72,394.15" fill="#fff" stroke="#309a30" stroke-width="1.10"/>
<polygon points="736.40,443.00 744.20,450.20 736.40,457.40 728.60,450.20" fill="#fff" stroke="#309a30" stroke-width="1.10"/>
<path d="M282.30,10.50 L284.17,12.34 L286.05,14.18 L287.92,16.02 L289.80,17.85 L291.67,19.68 L293.54,21.51 L295.42,23.34 L297.29,25.16 L299.16,26.98 L301.04,28.79 L302.91,30.60 L304.79,32.41 L306.66,34.22 L308.53,36.02 L310.41,37.82 L312.28,39.61 L314.15,41.40 L316.03,43.19 L317.90,44.97 L319.78,46.75 L321.65,48.52 L323.52,50.29 L325.40,52.05 L327.27,53.81 L330.47,56.80 L333.68,59.78 L336.88,62.75 L340.08,65.71 L343.29,68.65 L346.49,71.58 L349.69,74.51 L352.90,77.43 L356.10,80.33 L359.30,83.23 L362.51,86.13 L365.71,89.02 L368.91,91.91 L372.12,94.79 L375.32,97.67 L378.52,100.55 L381.72,103.42 L384.93,106.30 L388.13,109.18 L391.33,112.06 L394.54,114.94 L397.74,117.82 L400.94,120.71 L404.15,123.61 L407.35,126.49 L410.55,129.35 L413.76,132.19 L416.96,135.01 L420.16,137.81 L423.37,140.61 L426.57,143.39 L429.77,146.17 L432.98,148.95 L436.18,151.74 L439.38,154.53 L442.58,157.32 L445.79,160.14 L448.99,162.96 L452.19,165.81 L455.40,168.68 L458.60,171.58 L461.80,174.51 L465.01,177.47 L468.21,180.47 L471.41,183.51 L474.62,186.59 L477.82,189.72 L481.02,192.90 L484.23,196.15 L487.43,199.48 L490.63,202.88 L493.84,206.34 L497.04,209.86 L500.24,213.44 L503.45,217.06 L506.65,220.72 L509.85,224.41 L513.05,228.14 L516.26,231.88 L519.46,235.63 L522.66,239.40 L525.87,243.16 L529.07,246.93 L532.27,250.68 L535.48,254.41 L538.68,258.12 L541.88,261.80 L545.09,265.44 L548.29,269.04 L551.49,272.59 L554.70,276.08 L557.90,279.52 L562.13,284.01 L566.37,288.49 L570.60,292.96 L574.84,297.43 L579.07,301.88 L583.31,306.31 L587.54,310.73 L591.77,315.12 L596.01,319.49 L600.24,323.84 L604.48,328.16 L608.71,332.45 L612.95,336.71 L617.18,340.94 L621.41,345.13 L625.65,349.29 L629.88,353.40 L634.12,357.48 L638.35,361.50 L642.59,365.49 L646.82,369.42 L651.06,373.30 L655.29,377.13 L659.52,380.91 L662.73,383.73 L665.93,386.53 L669.13,389.31 L672.34,392.07 L675.54,394.80 L678.74,397.52 L681.95,400.21 L685.15,402.88 L688.35,405.53 L691.56,408.15 L694.76,410.76 L697.96,413.34 L701.17,415.90 L704.37,418.43 L707.57,420.95 L710.77,423.44 L713.98,425.91 L717.18,428.35 L720.38,430.78 L723.59,433.18 L726.79,435.56 L729.99,437.91 L733.20,440.25 L736.40,442.56" fill="none" stroke="#1a9ad0" stroke-width="1.9"/>
<polygon points="275.00,10.50 285.95,4.18 285.95,16.82" fill="#fff" stroke="#50b0dc" stroke-width="1.10"/>
<polygon points="319.97,53.81 330.92,47.49 330.92,60.13" fill="#fff" stroke="#50b0dc" stroke-width="1.10"/>
<polygon points="396.85,123.61 407.80,117.29 407.80,129.93" fill="#fff" stroke="#50b0dc" stroke-width="1.10"/>
<polygon points="473.72,192.90 484.67,186.58 484.67,199.22" fill="#fff" stroke="#50b0dc" stroke-width="1.10"/>
<polygon points="550.60,279.52 561.55,273.19 561.55,285.84" fill="#fff" stroke="#50b0dc" stroke-width="1.10"/>
<polygon points="652.22,380.91 663.17,374.58 663.17,387.23" fill="#fff" stroke="#50b0dc" stroke-width="1.10"/>
<polygon points="729.10,442.56 740.05,436.23 740.05,448.88" fill="#fff" stroke="#50b0dc" stroke-width="1.10"/>
<path d="M282.30,10.50 L284.17,11.51 L286.05,12.53 L287.92,13.56 L289.80,14.58 L291.67,15.61 L293.54,16.64 L295.42,17.68 L297.29,18.72 L299.16,19.77 L301.04,20.81 L302.91,21.87 L304.79,22.93 L306.66,23.99 L308.53,25.05 L310.41,26.12 L312.28,27.20 L314.15,28.28 L316.03,29.36 L317.90,30.45 L319.78,31.55 L321.65,32.65 L323.52,33.75 L325.40,34.86 L327.27,35.98 L330.47,37.88 L333.68,39.79 L336.88,41.70 L340.08,43.62 L343.29,45.54 L346.49,47.46 L349.69,49.39 L352.90,51.33 L356.10,53.29 L359.30,55.25 L362.51,57.23 L365.71,59.22 L368.91,61.23 L372.12,63.26 L375.32,65.31 L378.52,67.38 L381.72,69.47 L384.93,71.59 L388.13,73.73 L391.33,75.90 L394.54,78.10 L397.74,80.33 L400.94,82.59 L404.15,84.89 L407.35,87.22 L410.55,89.58 L413.76,91.98 L416.96,94.41 L420.16,96.87 L423.37,99.37 L426.57,101.89 L429.77,104.45 L432.98,107.04 L436.18,109.65 L439.38,112.30 L442.58,114.97 L445.79,117.67 L448.99,120.40 L452.19,123.16 L455.40,125.94 L458.60,128.75 L461.80,131.58 L465.01,134.44 L468.21,137.32 L471.41,140.23 L474.62,143.16 L477.82,146.11 L481.02,149.08 L484.23,152.10 L487.43,155.19 L490.63,158.34 L493.84,161.54 L497.04,164.80 L500.24,168.10 L503.45,171.44 L506.65,174.83 L509.85,178.24 L513.05,181.68 L516.26,185.15 L519.46,188.63 L522.66,192.13 L525.87,195.64 L529.07,199.14 L532.27,202.65 L535.48,206.15 L538.68,209.65 L541.88,213.12 L545.09,216.58 L548.29,220.01 L551.49,223.40 L554.70,226.77 L557.90,230.09 L562.13,234.45 L566.37,238.80 L570.60,243.13 L574.84,247.46 L579.07,251.77 L583.31,256.07 L587.54,260.36 L591.77,264.64 L596.01,268.91 L600.24,273.18 L604.48,277.44 L608.71,281.69 L612.95,285.94 L617.18,290.18 L621.41,294.42 L625.65,298.65 L629.88,302.89 L634.12,307.12 L638.35,311.35 L642.59,315.58 L646.82,319.81 L651.06,324.04 L655.29,328.27 L659.52,332.50 L662.73,335.71 L665.93,338.91 L669.13,342.11 L672.34,345.31 L675.54,348.51 L678.74,351.70 L681.95,354.89 L685.15,358.09 L688.35,361.28 L691.56,364.46 L694.76,367.65 L697.96,370.83 L701.17,374.02 L704.37,377.20 L707.57,380.38 L710.77,383.56 L713.98,386.73 L717.18,389.91 L720.38,393.08 L723.59,396.26 L726.79,399.43 L729.99,402.59 L733.20,405.76 L736.40,408.93" fill="none" stroke="#0000ff" stroke-width="1.9"/>
<polygon points="289.60,10.50 278.65,16.82 278.65,4.18" fill="#fff" stroke="#3030ff" stroke-width="1.10"/>
<polygon points="334.57,35.98 323.62,42.30 323.62,29.65" fill="#fff" stroke="#3030ff" stroke-width="1.10"/>
<polygon points="411.45,84.89 400.50,91.21 400.50,78.57" fill="#fff" stroke="#3030ff" stroke-width="1.10"/>
<polygon points="488.32,149.08 477.37,155.41 477.37,142.76" fill="#fff" stroke="#3030ff" stroke-width="1.10"/>
<polygon points="565.20,230.09 554.25,236.42 554.25,223.77" fill="#fff" stroke="#3030ff" stroke-width="1.10"/>
<polygon points="666.82,332.50 655.87,338.83 655.87,326.18" fill="#fff" stroke="#3030ff" stroke-width="1.10"/>
<polygon points="743.70,408.93 732.75,415.25 732.75,402.61" fill="#fff" stroke="#3030ff" stroke-width="1.10"/>
<path d="M282.30,10.50 L284.17,10.98 L286.05,11.47 L287.92,11.96 L289.80,12.47 L291.67,12.99 L293.54,13.52 L295.42,14.06 L297.29,14.62 L299.16,15.18 L301.04,15.75 L302.91,16.33 L304.79,16.92 L306.66,17.52 L308.53,18.13 L310.41,18.75 L312.28,19.38 L314.15,20.02 L316.03,20.67 L317.90,21.33 L319.78,22.00 L321.65,22.68 L323.52,23.36 L325.40,24.06 L327.27,24.77 L330.47,26.00 L333.68,27.27 L336.88,28.58 L340.08,29.92 L343.29,31.30 L346.49,32.72 L349.69,34.16 L352.90,35.64 L356.10,37.15 L359.30,38.69 L362.51,40.25 L365.71,41.85 L368.91,43.47 L372.12,45.11 L375.32,46.78 L378.52,48.48 L381.72,50.19 L384.93,51.93 L388.13,53.68 L391.33,55.46 L394.54,57.25 L397.74,59.06 L400.94,60.88 L404.15,62.72 L407.35,64.59 L410.55,66.49 L413.76,68.42 L416.96,70.39 L420.16,72.39 L423.37,74.43 L426.57,76.49 L429.77,78.59 L432.98,80.72 L436.18,82.88 L439.38,85.07 L442.58,87.29 L445.79,89.53 L448.99,91.81 L452.19,94.11 L455.40,96.44 L458.60,98.80 L461.80,101.18 L465.01,103.58 L468.21,106.01 L471.41,108.47 L474.62,110.94 L477.82,113.44 L481.02,115.97 L484.23,118.53 L487.43,121.14 L490.63,123.80 L493.84,126.52 L497.04,129.27 L500.24,132.07 L503.45,134.91 L506.65,137.79 L509.85,140.70 L513.05,143.65 L516.26,146.62 L519.46,149.62 L522.66,152.65 L525.87,155.69 L529.07,158.76 L532.27,161.84 L535.48,164.94 L538.68,168.05 L541.88,171.16 L545.09,174.29 L548.29,177.41 L551.49,180.54 L554.70,183.67 L557.90,186.79 L562.13,190.92 L566.37,195.09 L570.60,199.29 L574.84,203.51 L579.07,207.76 L583.31,212.04 L587.54,216.34 L591.77,220.66 L596.01,225.01 L600.24,229.38 L604.48,233.77 L608.71,238.18 L612.95,242.60 L617.18,247.05 L621.41,251.51 L625.65,255.99 L629.88,260.48 L634.12,264.99 L638.35,269.51 L642.59,274.04 L646.82,278.58 L651.06,283.13 L655.29,287.69 L659.52,292.25 L662.73,295.72 L665.93,299.19 L669.13,302.68 L672.34,306.18 L675.54,309.69 L678.74,313.21 L681.95,316.74 L685.15,320.29 L688.35,323.84 L691.56,327.41 L694.76,330.99 L697.96,334.57 L701.17,338.17 L704.37,341.78 L707.57,345.39 L710.77,349.02 L713.98,352.66 L717.18,356.30 L720.38,359.96 L723.59,363.62 L726.79,367.29 L729.99,370.97 L733.20,374.66 L736.40,378.36" fill="none" stroke="#8000ff" stroke-width="1.9"/>
<polygon points="282.30,3.50 284.18,7.91 288.96,8.34 285.34,11.49 286.42,16.16 282.30,13.70 278.19,16.16 279.26,11.49 275.64,8.34 280.42,7.91" fill="#fff" stroke="#9a40ff" stroke-width="1.10"/>
<polygon points="327.27,17.77 329.15,22.18 333.93,22.60 330.31,25.75 331.39,30.43 327.27,27.97 323.16,30.43 324.23,25.75 320.61,22.60 325.39,22.18" fill="#fff" stroke="#9a40ff" stroke-width="1.10"/>
<polygon points="404.15,55.72 406.03,60.13 410.80,60.56 407.19,63.71 408.26,68.39 404.15,65.92 400.03,68.39 401.10,63.71 397.49,60.56 402.27,60.13" fill="#fff" stroke="#9a40ff" stroke-width="1.10"/>
<polygon points="481.02,108.97 482.90,113.38 487.68,113.80 484.07,116.96 485.14,121.63 481.02,119.17 476.91,121.63 477.98,116.96 474.37,113.80 479.14,113.38" fill="#fff" stroke="#9a40ff" stroke-width="1.10"/>
<polygon points="557.90,179.79 559.78,184.20 564.56,184.62 560.94,187.78 562.01,192.45 557.90,189.99 553.78,192.45 554.86,187.78 551.24,184.62 556.02,184.20" fill="#fff" stroke="#9a40ff" stroke-width="1.10"/>
<polygon points="659.52,285.25 661.40,289.66 666.18,290.09 662.57,293.24 663.64,297.92 659.52,295.45 655.41,297.92 656.48,293.24 652.87,290.09 657.64,289.66" fill="#fff" stroke="#9a40ff" stroke-width="1.10"/>
<polygon points="736.40,371.36 738.28,375.77 743.06,376.20 739.44,379.35 740.51,384.02 736.40,381.56 732.29,384.02 733.36,379.35 729.74,376.20 734.52,375.77" fill="#fff" stroke="#9a40ff" stroke-width="1.10"/>
<text class="t" transform="translate(297.20,600.80) scale(1,1.050)" font-size="31.40">Sieve aperture / <tspan font-style="italic">mm</tspan></text>
<text class="t" transform="translate(24.2,247.6) rotate(-90)" font-size="31.3" text-anchor="middle">Passing mass percentage / %</text>
<text class="t" transform="translate(754.70,54.80) scale(1,1.050)" font-size="21.60">Original gradation<tspan dx="2">:</tspan></text>
<path d="M754,72.40 H803.5" stroke="#000000" stroke-width="2.4" stroke-dasharray="12 12"/>
<rect x="773.20" y="66.80" width="11.20" height="11.20" fill="#fff" stroke="#555555" stroke-width="1.10"/>
<text class="t" transform="translate(809.30,80.00) scale(1,1.050)" font-size="21.60">0 m≤ H &lt;20 m</text>
<path d="M754,98.24 H803.5" stroke="#ff0000" stroke-width="2.4" stroke-dasharray="12 12"/>
<circle cx="778.80" cy="98.24" r="6.20" fill="#fff" stroke="#ff5050" stroke-width="1.10"/>
<text class="t" transform="translate(809.30,105.84) scale(1,1.050)" font-size="21.60">20 m≤ H &lt;40 m</text>
<path d="M754,124.08 H803.5" stroke="#ff8000" stroke-width="2.4" stroke-dasharray="12 12"/>
<polygon points="778.80,116.78 785.12,127.73 772.48,127.73" fill="#fff" stroke="#ff9a40" stroke-width="1.10"/>
<text class="t" transform="translate(809.30,131.68) scale(1,1.050)" font-size="21.60">40 m≤ H &lt;60 m</text>
<path d="M754,149.92 H803.5" stroke="#ff00ff" stroke-width="2.4" stroke-dasharray="12 12"/>
<polygon points="778.80,157.22 772.48,146.27 785.12,146.27" fill="#fff" stroke="#ff40ff" stroke-width="1.10"/>
<text class="t" transform="translate(809.30,157.52) scale(1,1.050)" font-size="21.60">60 m≤ H &lt;80 m</text>
<path d="M754,175.76 H803.5" stroke="#008000" stroke-width="2.4" stroke-dasharray="12 12"/>
<polygon points="778.80,168.56 786.60,175.76 778.80,182.96 771.00,175.76" fill="#fff" stroke="#309a30" stroke-width="1.10"/>
<text class="t" transform="translate(809.30,183.36) scale(1,1.050)" font-size="21.60">80 m≤ H &lt;100 m</text>
<path d="M754,201.60 H803.5" stroke="#1a9ad0" stroke-width="2.4" stroke-dasharray="12 12"/>
<polygon points="771.50,201.60 782.45,195.28 782.45,207.92" fill="#fff" stroke="#50b0dc" stroke-width="1.10"/>
<text class="t" transform="translate(809.30,209.20) scale(1,1.050)" font-size="21.60">100 m≤ H &lt;120 m</text>
<path d="M754,227.44 H803.5" stroke="#0000ff" stroke-width="2.4" stroke-dasharray="12 12"/>
<polygon points="786.10,227.44 775.15,233.76 775.15,221.12" fill="#fff" stroke="#3030ff" stroke-width="1.10"/>
<text class="t" transform="translate(809.30,235.04) scale(1,1.050)" font-size="21.60">120 m≤ H &lt;140 m</text>
<path d="M754,253.28 H803.5" stroke="#8000ff" stroke-width="2.4" stroke-dasharray="12 12"/>
<polygon points="778.80,246.28 780.68,250.69 785.46,251.12 781.84,254.27 782.91,258.94 778.80,256.48 774.69,258.94 775.76,254.27 772.14,251.12 776.92,250.69" fill="#fff" stroke="#9a40ff" stroke-width="1.10"/>
<text class="t" transform="translate(809.30,260.88) scale(1,1.050)" font-size="21.60">140 m≤ H &lt;160 m</text>
<text class="t" transform="translate(755.40,286.00) scale(1,1.050)" font-size="21.60">----------------------------</text>
<text class="t" transform="translate(755.40,312.40) scale(1,1.050)" font-size="21.60">Gradation after scaling<tspan dx="2">:</tspan></text>
<path d="M754,332.50 H804.4" stroke="#000000" stroke-width="2.4"/>
<rect x="773.20" y="326.90" width="11.20" height="11.20" fill="#fff" stroke="#555555" stroke-width="1.10"/>
<text class="t" transform="translate(809.70,340.10) scale(1,1.050)" font-size="21.60">0 m≤ H &lt;20 m</text>
<path d="M754,358.13 H804.4" stroke="#ff0000" stroke-width="2.4"/>
<circle cx="778.80" cy="358.13" r="6.20" fill="#fff" stroke="#ff5050" stroke-width="1.10"/>
<text class="t" transform="translate(809.70,365.73) scale(1,1.050)" font-size="21.60">20 m≤ H &lt;40 m</text>
<path d="M754,383.76 H804.4" stroke="#ff8000" stroke-width="2.4"/>
<polygon points="778.80,376.46 785.12,387.41 772.48,387.41" fill="#fff" stroke="#ff9a40" stroke-width="1.10"/>
<text class="t" transform="translate(809.70,391.36) scale(1,1.050)" font-size="21.60">40 m≤ H &lt;60 m</text>
<path d="M754,409.39 H804.4" stroke="#ff00ff" stroke-width="2.4"/>
<polygon points="778.80,416.69 772.48,405.74 785.12,405.74" fill="#fff" stroke="#ff40ff" stroke-width="1.10"/>
<text class="t" transform="translate(809.70,416.99) scale(1,1.050)" font-size="21.60">60 m≤ H &lt;80 m</text>
<path d="M754,435.02 H804.4" stroke="#008000" stroke-width="2.4"/>
<polygon points="778.80,427.82 786.60,435.02 778.80,442.22 771.00,435.02" fill="#fff" stroke="#309a30" stroke-width="1.10"/>
<text class="t" transform="translate(809.70,442.62) scale(1,1.050)" font-size="21.60">80 m≤ H &lt;100 m</text>
<path d="M754,460.65 H804.4" stroke="#1a9ad0" stroke-width="2.4"/>
<polygon points="771.50,460.65 782.45,454.33 782.45,466.97" fill="#fff" stroke="#50b0dc" stroke-width="1.10"/>
<text class="t" transform="translate(809.70,468.25) scale(1,1.050)" font-size="21.60">100 m≤ H &lt;120 m</text>
<path d="M754,486.28 H804.4" stroke="#0000ff" stroke-width="2.4"/>
<polygon points="786.10,486.28 775.15,492.60 775.15,479.96" fill="#fff" stroke="#3030ff" stroke-width="1.10"/>
<text class="t" transform="translate(809.70,493.88) scale(1,1.050)" font-size="21.60">120 m≤ H &lt;140 m</text>
<path d="M754,511.91 H804.4" stroke="#8000ff" stroke-width="2.4"/>
<polygon points="778.80,504.91 780.68,509.32 785.46,509.75 781.84,512.90 782.91,517.57 778.80,515.11 774.69,517.57 775.76,512.90 772.14,509.75 776.92,509.32" fill="#fff" stroke="#9a40ff" stroke-width="1.10"/>
<text class="t" transform="translate(809.70,519.51) scale(1,1.050)" font-size="21.60">140 m≤ H &lt;160 m</text>
</svg></body></html>
